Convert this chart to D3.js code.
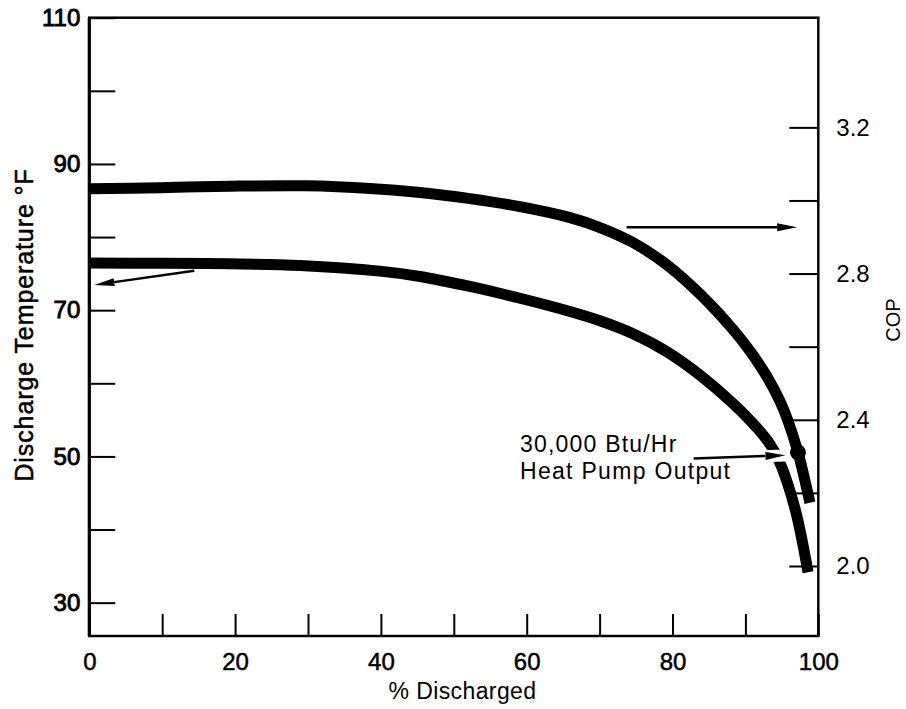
<!DOCTYPE html>
<html>
<head>
<meta charset="utf-8">
<script src="https://cdn.jsdelivr.net/npm/d3@7"></script>
<style>
  html, body { margin: 0; padding: 0; background: #fff; }
  svg { display: block; font-family: "Liberation Sans", Arial, Helvetica, sans-serif; }
</style>
</head>
<body>
<svg id="chart" width="906" height="709"></svg>
<script>
// Percent of storage discharged (x) for the COP curve, and the COP values
const copPct = [0, 9.70, 19.30, 29.72, 38.50, 45.37, 52.22, 59.08, 65.94, 70.05, 74.58, 79.24, 83.77, 88.30, 90.63, 92.96, 94.74, 95.84, 97.21, 98.85];
const copValues = [3.032, 3.035, 3.039, 3.040, 3.033, 3.022, 3.005, 2.983, 2.953, 2.926, 2.885, 2.824, 2.744, 2.647, 2.588, 2.518, 2.451, 2.397, 2.311, 2.173];

// Percent discharged for the discharge-temperature curve, and the temperatures (°F)
const tempPct = [0, 9.70, 19.30, 28.90, 39.84, 45.37, 52.22, 59.08, 65.94, 70.05, 74.58, 79.24, 83.77, 88.30, 91.59, 93.37, 94.61, 96.80, 98.59];
const tempValues = [76.45, 76.41, 76.34, 76.11, 75.34, 74.61, 73.24, 71.63, 69.82, 68.55, 66.78, 64.32, 61.12, 57.24, 53.89, 51.66, 49.44, 42.88, 34.17];

// Axis ticks and labels
const xTicks = [0, 10, 20, 30, 40, 50, 60, 70, 80, 90, 100];
const xLabels = [0, 20, 40, 60, 80, 100];
const tempTicks = [30, 40, 50, 60, 70, 80, 90, 100, 110];
const tempLabels = [30, 50, 70, 90, 110];
const copTicks = [2.0, 2.2, 2.4, 2.6, 2.8, 3.0, 3.2];
const copLabels = [2.0, 2.4, 2.8, 3.2];

// Marked operating point on the COP curve and its annotation
const markPoint = { pct: 97.21, cop: 2.311 };
const noteLines = ["30,000 Btu/Hr", "Heat Pump Output"];

const svg = d3.select("#chart");
const L = 89.3, R = 818.3, T = 17.7, B = 636;

const x = d3.scaleLinear().domain([0, 100]).range([L, R]);
const yT = d3.scaleLinear().domain([25.44, 110]).range([B, T]);
const yC = d3.scaleLinear().domain([1.8085, 3.5]).range([B, T]);

// Axes with inward ticks
const leftAxis = d3.axisLeft(yT).tickValues(tempTicks)
  .tickSizeInner(-26).tickSizeOuter(0).tickPadding(9)
  .tickFormat(d => tempLabels.includes(d) ? String(d) : "");
const rightAxis = d3.axisRight(yC).tickValues(copTicks)
  .tickSizeInner(-29).tickSizeOuter(0).tickPadding(18)
  .tickFormat(d => copLabels.some(v => Math.abs(v - d) < 1e-9) ? d3.format(".1f")(d) : "");
const bottomAxis = d3.axisBottom(x).tickValues(xTicks)
  .tickSizeInner(-22).tickSizeOuter(0).tickPadding(17)
  .tickFormat(d => xLabels.includes(d) ? String(d) : "");

function styleAxis(g, size, weightStroke) {
  g.select(".domain").remove();
  g.selectAll(".tick line").attr("stroke", "#000").attr("stroke-width", 2);
  g.selectAll(".tick text")
    .attr("fill", "#000")
    .attr("font-size", size)
    .attr("font-family", "'Liberation Sans', Arial, Helvetica, sans-serif")
    .attr("stroke", weightStroke > 0 ? "#000" : "none")
    .attr("stroke-width", weightStroke);
}

svg.append("g").attr("transform", `translate(${L},0)`).call(leftAxis).call(g => styleAxis(g, 24, 0.9));
svg.append("g").attr("transform", `translate(${R},0)`).call(rightAxis).call(g => styleAxis(g, 24, 0));
svg.append("g").attr("transform", `translate(0,${B})`).call(bottomAxis).call(g => styleAxis(g, 24, 0.5));

// Plot frame
svg.append("rect")
  .attr("x", L).attr("y", T).attr("width", R - L).attr("height", B - T)
  .attr("fill", "none").attr("stroke", "#000").attr("stroke-width", 2.5);
svg.append("line").attr("x1", L).attr("x2", L).attr("y1", T).attr("y2", B)
  .attr("stroke", "#000").attr("stroke-width", 3.2);

// Axis titles
svg.append("text")
  .attr("transform", `translate(33,325) rotate(-90)`)
  .attr("text-anchor", "middle")
  .attr("font-size", 25).attr("letter-spacing", 0.9).attr("fill", "#000")
  .attr("stroke", "#000").attr("stroke-width", 0.5)
  .text("Discharge Temperature °F");

svg.append("text")
  .attr("transform", `translate(900,320) rotate(-90)`)
  .attr("text-anchor", "middle")
  .attr("font-size", 20).attr("fill", "#000")
  .text("COP");

svg.append("text")
  .attr("x", 462.5).attr("y", 699)
  .attr("text-anchor", "middle")
  .attr("font-size", 23).attr("letter-spacing", 0.4).attr("fill", "#000")
  .text("% Discharged");

// Annotation arrow geometry (data space)
const noteArrow = { from: { pct: 82.9, cop: 2.294 }, to: { pct: 95.5, cop: 2.303 } };

// Mask that breaks the temperature curve where the annotation arrow passes
const defs = svg.append("defs");
const mask = defs.append("mask").attr("id", "gapMask").attr("maskUnits", "userSpaceOnUse")
  .attr("x", 0).attr("y", 0).attr("width", 906).attr("height", 709);
mask.append("rect").attr("x", 0).attr("y", 0).attr("width", 906).attr("height", 709).attr("fill", "#fff");
mask.append("line")
  .attr("x1", x(noteArrow.from.pct)).attr("y1", yC(noteArrow.from.cop))
  .attr("x2", x(noteArrow.to.pct) + 6).attr("y2", yC(noteArrow.to.cop))
  .attr("stroke", "#000").attr("stroke-width", 12);

// Curves
const smooth = d3.curveCatmullRom.alpha(0.5);
const copLine = d3.line().x((d, i) => x(copPct[i])).y(d => yC(d)).curve(smooth);
const tempLine = d3.line().x((d, i) => x(tempPct[i])).y(d => yT(d)).curve(smooth);

svg.append("path").attr("d", copLine(copValues))
  .attr("fill", "none").attr("stroke", "#000").attr("stroke-width", 11);
svg.append("path").attr("d", tempLine(tempValues))
  .attr("fill", "none").attr("stroke", "#000").attr("stroke-width", 11)
  .attr("mask", "url(#gapMask)");

// Operating point
svg.append("circle")
  .attr("cx", x(markPoint.pct)).attr("cy", yC(markPoint.cop)).attr("r", 8)
  .attr("fill", "#000");

// Arrows
function arrow(x1, y1, x2, y2, headLen, headHalf) {
  const ang = Math.atan2(y2 - y1, x2 - x1);
  const bx = x2 - headLen * Math.cos(ang), by = y2 - headLen * Math.sin(ang);
  svg.append("line").attr("x1", x1).attr("y1", y1).attr("x2", bx).attr("y2", by)
    .attr("stroke", "#000").attr("stroke-width", 2.5);
  const px = -Math.sin(ang) * headHalf, py = Math.cos(ang) * headHalf;
  svg.append("polygon")
    .attr("points", `${x2},${y2} ${bx + px},${by + py} ${bx - px},${by - py}`)
    .attr("fill", "#000");
}
// Temperature curve points to the left axis
arrow(x(14.4), yT(75.4), x(0.7), yT(73.45), 20, 4);
// COP curve points to the right axis
arrow(x(73.7), yC(2.927), x(97.1), yC(2.927), 20, 4);
// Annotation arrow to the operating point
arrow(x(noteArrow.from.pct), yC(noteArrow.from.cop), x(noteArrow.to.pct), yC(noteArrow.to.cop), 20, 4);

// Annotation text
svg.append("text").attr("x", 520).attr("y", 451.5)
  .attr("font-size", 23).attr("letter-spacing", 1.2).attr("fill", "#000")
  .text(noteLines[0]);
svg.append("text").attr("x", 520).attr("y", 479)
  .attr("font-size", 23).attr("letter-spacing", 1.3).attr("fill", "#000")
  .text(noteLines[1]);
</script>
</body>
</html>
